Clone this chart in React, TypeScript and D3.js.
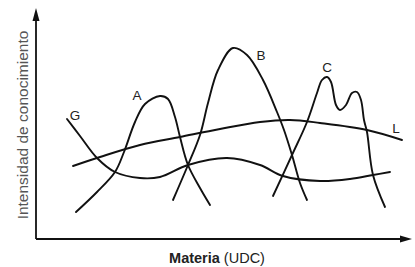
import React from "react";
import * as d3 from "d3";

type P = [number, number];

const curveG: P[] = [[31,120],[44,103],[61,81],[79,67],[104,61],[124,62],[152,74],[191,81],[224,74],[247,63],[284,58],[314,60],[337,64],[354,67]];
const curveL: P[] = [[37,73],[64,82],[104,94],[144,102],[184,110],[224,117],[254,119],[284,116],[331,109],[366,99]];
const curveA: P[] = [[40,27],[61,47],[79,67],[88,87],[99,117],[109,135],[124,143],[132,140],[139,122],[144,102],[152,74],[164,51],[174,34]];
const curveB: P[] = [[137,39],[152,74],[164,104],[172,136],[182,169],[197,191],[211,184],[227,159],[241,127],[248,109],[256,84],[264,56],[271,39]];
const curveC: P[] = [[237,43],[256,84],[271,117],[281,146],[286,159],[291,162],[295,157],[300,134],[304,129],[310,134],[316,146],[321,147],[325,139],[328,119],[331,107],[337,64],[349,32]];

const labels: { text: string; x: number; y: number }[] = [
  { text: "G", x: 39, y: 124 },
  { text: "A", x: 101, y: 144 },
  { text: "B", x: 225, y: 184 },
  { text: "C", x: 291, y: 172 },
  { text: "L", x: 360, y: 111 },
];

const W = 415, H = 267;
const x = d3.scaleLinear().domain([0, 376]).range([36, 412]);
const y = d3.scaleLinear().domain([0, 231]).range([239, 8]);

export default function App() {
  const line = d3.line<P>().x(d => x(d[0])).y(d => y(d[1])).curve(d3.curveCatmullRom.alpha(0.5));
  const curves = [curveG, curveL, curveA, curveB, curveC];
  const font = "'Liberation Sans', Arial, Helvetica, sans-serif";
  return (
    <svg width={W} height={H} style={{ position: "absolute", left: 0, top: 0, background: "#fff" }}>
      {curves.map((c, i) => (
        <path key={i} d={line(c) || ""} fill="none" stroke="#111" strokeWidth={1.9} strokeLinecap="round" />
      ))}
      {/* axes */}
      <line x1={x(0)} y1={y(0)} x2={x(0)} y2={y(226)} stroke="#111" strokeWidth={1.8} />
      <line x1={x(0)} y1={y(0)} x2={x(370)} y2={y(0)} stroke="#111" strokeWidth={1.8} />
      <path d={`M${x(0)},${y(231)} L${x(0) - 3.5},${y(218)} L${x(0) + 3.5},${y(218)} Z`} fill="#111" />
      <path d={`M${x(376)},${y(0)} L${x(364)},${y(0) - 3.5} L${x(364)},${y(0) + 3.5} Z`} fill="#111" />
      {labels.map((l, i) => (
        <text key={i} x={x(l.x)} y={y(l.y)} textAnchor="middle" dominantBaseline="central" fontFamily={font} fontSize={13.5} fill="#222">{l.text}</text>
      ))}
      <text transform={`translate(22,125) rotate(-90)`} textAnchor="middle" dominantBaseline="central" fontFamily={font} fontSize={15.5} fill="#555">Intensidad de conocimiento</text>
      <text x={217} y={258} textAnchor="middle" dominantBaseline="central" fontFamily={font} fontSize={14.5} fill="#222">
        <tspan fontWeight="bold">Materia</tspan> (UDC)
      </text>
    </svg>
  );
}
